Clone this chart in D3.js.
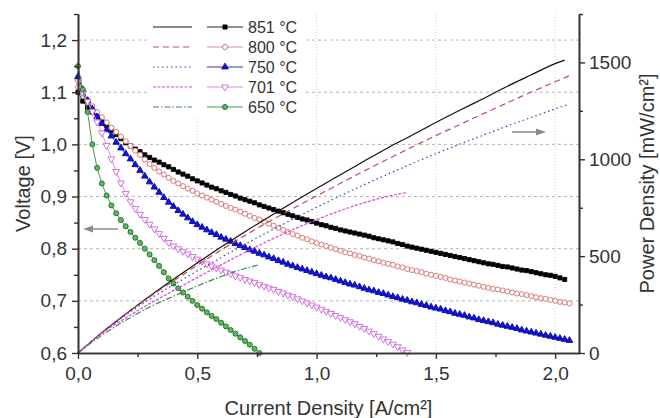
<!DOCTYPE html>
<html>
<head>
<meta charset="utf-8">
<script src="https://cdn.jsdelivr.net/npm/d3@7"></script>
<style>
  body { margin: 0; background: #fff; }
  svg { font-family: "Liberation Sans", Arial, sans-serif; }
</style>
</head>
<body>
<svg width="660" height="418"></svg>
<script>
// temperatures (legend order)
const temps = ["851 °C", "800 °C", "750 °C", "701 °C", "650 °C"];

// voltage curves, one reading every 0.02 A/cm² starting at 0
const currentStep = 0.02;
const volt851 = [1.100,1.083,1.071,1.062,1.053,1.045,1.036,1.027,1.019,1.011,1.003,0.997,0.991,0.986,0.980,0.975,0.970,0.966,0.961,0.957,
  0.952,0.947,0.943,0.939,0.934,0.930,0.926,0.922,0.918,0.915,0.911,0.908,0.904,0.901,0.897,0.894,0.891,0.888,0.884,0.881,
  0.878,0.875,0.872,0.869,0.866,0.863,0.860,0.857,0.855,0.852,0.849,0.846,0.844,0.841,0.839,0.836,0.834,0.832,0.830,0.828,
  0.826,0.824,0.821,0.819,0.817,0.815,0.813,0.810,0.808,0.805,0.803,0.801,0.799,0.797,0.795,0.793,0.791,0.789,0.787,0.785,
  0.783,0.781,0.779,0.777,0.775,0.773,0.771,0.770,0.768,0.766,0.765,0.763,0.761,0.759,0.758,0.756,0.754,0.752,0.750,0.749,
  0.747,0.744,0.741];
const volt800 = [1.110,1.097,1.085,1.073,1.062,1.052,1.042,1.032,1.024,1.015,1.006,0.997,0.988,0.980,0.971,0.962,0.955,0.948,0.942,0.936,
  0.930,0.925,0.920,0.915,0.911,0.906,0.902,0.898,0.894,0.890,0.886,0.882,0.878,0.875,0.871,0.867,0.863,0.859,0.856,0.852,
  0.848,0.844,0.840,0.836,0.832,0.828,0.825,0.821,0.818,0.814,0.811,0.808,0.805,0.802,0.799,0.796,0.793,0.791,0.788,0.786,
  0.783,0.781,0.778,0.776,0.773,0.771,0.769,0.766,0.764,0.761,0.759,0.757,0.755,0.752,0.750,0.748,0.746,0.744,0.741,0.739,
  0.737,0.735,0.733,0.731,0.729,0.727,0.725,0.723,0.722,0.720,0.718,0.716,0.714,0.713,0.711,0.709,0.707,0.705,0.704,0.702,
  0.700,0.698,0.697,0.695];
const volt750 = [1.130,1.105,1.084,1.068,1.053,1.040,1.028,1.016,1.004,0.993,0.982,0.972,0.961,0.950,0.939,0.928,0.918,0.908,0.898,0.889,
  0.881,0.873,0.866,0.859,0.852,0.846,0.841,0.836,0.831,0.827,0.822,0.818,0.814,0.810,0.806,0.802,0.798,0.795,0.791,0.788,
  0.784,0.781,0.777,0.774,0.770,0.767,0.764,0.761,0.758,0.755,0.752,0.749,0.746,0.744,0.741,0.738,0.735,0.732,0.730,0.727,
  0.724,0.721,0.719,0.716,0.714,0.711,0.708,0.706,0.703,0.701,0.698,0.696,0.693,0.691,0.688,0.686,0.684,0.681,0.679,0.676,
  0.674,0.672,0.669,0.667,0.664,0.662,0.660,0.658,0.655,0.653,0.651,0.649,0.647,0.644,0.642,0.640,0.638,0.636,0.634,0.632,
  0.630,0.628,0.626,0.624];
const volt701 = [1.120,1.100,1.082,1.063,1.043,1.022,0.998,0.972,0.948,0.926,0.906,0.890,0.877,0.866,0.856,0.847,0.838,0.829,0.820,0.812,
  0.805,0.800,0.795,0.790,0.785,0.780,0.776,0.771,0.767,0.763,0.759,0.755,0.752,0.748,0.745,0.741,0.738,0.735,0.731,0.728,
  0.725,0.722,0.718,0.715,0.711,0.708,0.704,0.700,0.696,0.692,0.688,0.684,0.680,0.676,0.672,0.668,0.664,0.660,0.656,0.651,
  0.647,0.642,0.637,0.632,0.627,0.622,0.617,0.612,0.606,0.601];
const volt650 = [1.150,1.105,1.062,1.000,0.955,0.925,0.902,0.883,0.868,0.855,0.843,0.832,0.821,0.811,0.800,0.789,0.778,0.767,0.755,0.743,
  0.733,0.724,0.716,0.708,0.700,0.692,0.685,0.678,0.671,0.665,0.658,0.651,0.644,0.637,0.630,0.623,0.616,0.608,0.600];

// power density curves, [current A/cm², power mW/cm²]
const power851 = [[0,0],[0.1,105],[0.2,201],[0.3,293],[0.4,381],[0.5,465],[0.6,547],[0.7,626],[0.8,702],[0.9,777],[1.0,849],
  [1.1,920],[1.2,991],[1.3,1060],[1.4,1124],[1.5,1190],[1.6,1253],[1.7,1314],[1.8,1377],[1.9,1436],[2.0,1494],[2.04,1512]];
const power800 = [[0,0],[0.1,105],[0.2,201],[0.3,289],[0.4,372],[0.5,453],[0.6,532],[0.7,607],[0.8,678],[0.9,745],[1.0,811],
  [1.1,876],[1.2,940],[1.3,1002],[1.4,1063],[1.5,1122],[1.6,1179],[1.7,1236],[1.8,1292],[1.9,1347],[2.0,1400],[2.06,1432]];
const power750 = [[0,0],[0.1,104],[0.2,196],[0.3,278],[0.4,352],[0.5,423],[0.6,493],[0.7,561],[0.8,627],[0.9,690],[1.0,752],
  [1.1,812],[1.2,869],[1.3,924],[1.4,977],[1.5,1029],[1.6,1078],[1.7,1125],[1.8,1172],[1.9,1216],[2.0,1260],[2.06,1285]];
const power701 = [[0,0],[0.1,102],[0.2,181],[0.3,254],[0.4,322],[0.5,390],[0.6,455],[0.7,519],[0.8,580],[0.9,637],[1.0,688],
  [1.1,735],[1.2,776],[1.3,809],[1.38,829]];
const power650 = [[0,0],[0.1,92],[0.2,169],[0.3,237],[0.4,293],[0.5,346],[0.6,395],[0.7,436],[0.76,456]];

// tick values
const xTicks = [0, 0.5, 1.0, 1.5, 2.0];
const vTicks = [0.6, 0.7, 0.8, 0.9, 1.0, 1.1, 1.2];
const pTicks = [0, 500, 1000, 1500];

const voltSeries = [volt851, volt800, volt750, volt701, volt650];
const powerSeries = [power851, power800, power750, power701, power650];

const styles = [
  {line: "#111", dash: null, mLine: "#222", shape: d3.symbolSquare, size: 17, rot: 0, fill: "#000", stroke: "#000"},
  {line: "#c0504d", dash: "6,4", mLine: "#e08a8a", shape: d3.symbolCircle, size: 20, rot: 0, fill: "#fff", stroke: "#d46a6c"},
  {line: "#3b3bb0", dash: "1.5,3", mLine: "#3030c0", shape: d3.symbolTriangle, size: 19, rot: 0, fill: "#1010ee", stroke: "#0a0a90"},
  {line: "#e040e0", dash: "3,1.5", mLine: "#e08ae8", shape: d3.symbolTriangle, size: 20, rot: 180, fill: "#fff", stroke: "#cf62d8"},
  {line: "#3a8a46", dash: "6,2,1.5,2", mLine: "#4a9a4a", shape: d3.symbolCircle, size: 20, rot: 0, fill: "#5fb85f", stroke: "#1d6b24"}
];

const svg = d3.select("svg");
const plotLeft = 78, plotRight = 579, plotTop = 14, plotBottom = 353;

const x = d3.scaleLinear().domain([0, 2.1]).range([plotLeft, plotRight]);
const yV = d3.scaleLinear().domain([0.6, 1.25]).range([plotBottom, plotTop]);
const yP = d3.scaleLinear().domain([0, 1750]).range([plotBottom, plotTop]);
const comma = d => d3.format(".1f")(d).replace(".", ",");

// grid
const grid = svg.append("g");
grid.selectAll("line.h").data(vTicks.filter(d => d > 0.6)).enter().append("line")
  .attr("x1", plotLeft).attr("x2", plotRight)
  .attr("y1", d => yV(d)).attr("y2", d => yV(d))
  .attr("stroke", "#b5b5b5").attr("stroke-dasharray", "3,3");
grid.selectAll("line.v").data(xTicks.filter(d => d > 0)).enter().append("line")
  .attr("x1", d => x(d)).attr("x2", d => x(d))
  .attr("y1", plotTop).attr("y2", plotBottom)
  .attr("stroke", "#d0d0d0").attr("stroke-dasharray", "1,2");

// legend background hides grid
svg.append("rect").attr("x", 150).attr("y", plotTop).attr("width", 153).attr("height", 104).attr("fill", "#fff");

// voltage curves with markers
const vLine = d3.line().x((d, i) => x(i * currentStep)).y(d => yV(d));
voltSeries.forEach((vals, k) => {
  const st = styles[k];
  svg.append("path").datum(vals).attr("d", vLine)
    .attr("fill", "none").attr("stroke", st.mLine).attr("stroke-width", 1);
  svg.append("g").selectAll("path").data(vals).enter().append("path")
    .attr("d", d3.symbol().type(st.shape).size(st.size))
    .attr("transform", (d, i) => `translate(${x(i * currentStep)},${yV(d)}) rotate(${st.rot})`)
    .attr("fill", st.fill).attr("stroke", st.stroke).attr("stroke-width", 0.9);
});

// power curves
const pLine = d3.line().x(d => x(d[0])).y(d => yP(d[1])).curve(d3.curveMonotoneX);
powerSeries.forEach((vals, k) => {
  const st = styles[k];
  svg.append("path").datum(vals).attr("d", pLine)
    .attr("fill", "none").attr("stroke", st.line).attr("stroke-width", 1.2)
    .attr("stroke-dasharray", st.dash);
});

// axes
const axisColor = "#333";
function styleAxis(g) {
  g.select(".domain").attr("stroke", axisColor).attr("stroke-width", 1.6);
  g.selectAll(".tick line").attr("stroke", axisColor).attr("stroke-width", 1.4);
  g.selectAll(".tick text").attr("fill", "#333").attr("font-size", 19)
    .attr("font-family", "Liberation Sans, Arial, sans-serif");
}

const xMinor = svg.append("g").attr("transform", `translate(0,${plotBottom})`)
  .call(d3.axisBottom(x).tickValues([0.25, 0.75, 1.25, 1.75]).tickSize(4).tickFormat("").tickSizeOuter(0));
styleAxis(xMinor);
const xAxis = svg.append("g").attr("transform", `translate(0,${plotBottom})`)
  .call(d3.axisBottom(x).tickValues(xTicks).tickSize(6).tickFormat(comma).tickSizeOuter(0).tickPadding(8));
styleAxis(xAxis);

const vMinor = svg.append("g").attr("transform", `translate(${plotLeft},0)`)
  .call(d3.axisLeft(yV).tickValues([0.65, 0.75, 0.85, 0.95, 1.05, 1.15, 1.25]).tickSize(4).tickFormat("").tickSizeOuter(0));
styleAxis(vMinor);
const vAxis = svg.append("g").attr("transform", `translate(${plotLeft},0)`)
  .call(d3.axisLeft(yV).tickValues(vTicks).tickSize(6).tickFormat(comma).tickSizeOuter(0).tickPadding(5));
styleAxis(vAxis);

const pMinor = svg.append("g").attr("transform", `translate(${plotRight},0)`)
  .call(d3.axisRight(yP).tickValues([250, 750, 1250, 1750]).tickSize(4).tickFormat("").tickSizeOuter(0));
styleAxis(pMinor);
const pAxis = svg.append("g").attr("transform", `translate(${plotRight},0)`)
  .call(d3.axisRight(yP).tickValues(pTicks).tickSize(6).tickFormat(d3.format("d")).tickSizeOuter(0).tickPadding(4));
styleAxis(pAxis);

// axis titles
svg.append("text").attr("transform", `translate(30,${(plotTop + plotBottom) / 2}) rotate(-90)`)
  .attr("text-anchor", "middle").attr("font-size", 20).attr("fill", "#333").text("Voltage [V]");
svg.append("text").attr("transform", `translate(654,${(plotTop + plotBottom) / 2}) rotate(-90)`)
  .attr("text-anchor", "middle").attr("font-size", 20).attr("fill", "#333").text("Power Density [mW/cm²]");
svg.append("text").attr("x", (plotLeft + plotRight) / 2).attr("y", 415)
  .attr("text-anchor", "middle").attr("font-size", 20).attr("fill", "#333").text("Current Density [A/cm²]");

// arrows
const arrowColor = "#8a8a8a";
svg.append("line").attr("x1", 118).attr("x2", 90).attr("y1", 229).attr("y2", 229)
  .attr("stroke", arrowColor).attr("stroke-width", 1.5);
svg.append("path").attr("d", "M83,229 L93,225.5 L93,232.5 Z").attr("fill", arrowColor);
svg.append("line").attr("x1", 512).attr("x2", 538).attr("y1", 132).attr("y2", 132)
  .attr("stroke", arrowColor).attr("stroke-width", 1.5);
svg.append("path").attr("d", "M546,132 L536,128.5 L536,135.5 Z").attr("fill", arrowColor);

// legend
const legend = svg.append("g");
temps.forEach((t, k) => {
  const st = styles[k];
  const ly = 27 + k * 20;
  legend.append("line").attr("x1", 153).attr("x2", 192).attr("y1", ly).attr("y2", ly)
    .attr("stroke", st.line).attr("stroke-width", 1.2).attr("stroke-dasharray", st.dash);
  legend.append("line").attr("x1", 207).attr("x2", 243).attr("y1", ly).attr("y2", ly)
    .attr("stroke", st.mLine).attr("stroke-width", 1);
  legend.append("path").attr("d", d3.symbol().type(st.shape).size(st.size))
    .attr("transform", `translate(225,${ly}) rotate(${st.rot})`)
    .attr("fill", st.fill).attr("stroke", st.stroke).attr("stroke-width", 0.9);
  legend.append("text").attr("x", 248).attr("y", ly).attr("dy", "0.36em")
    .attr("font-size", 16).attr("fill", "#333").text(t);
});
</script>
</body>
</html>
